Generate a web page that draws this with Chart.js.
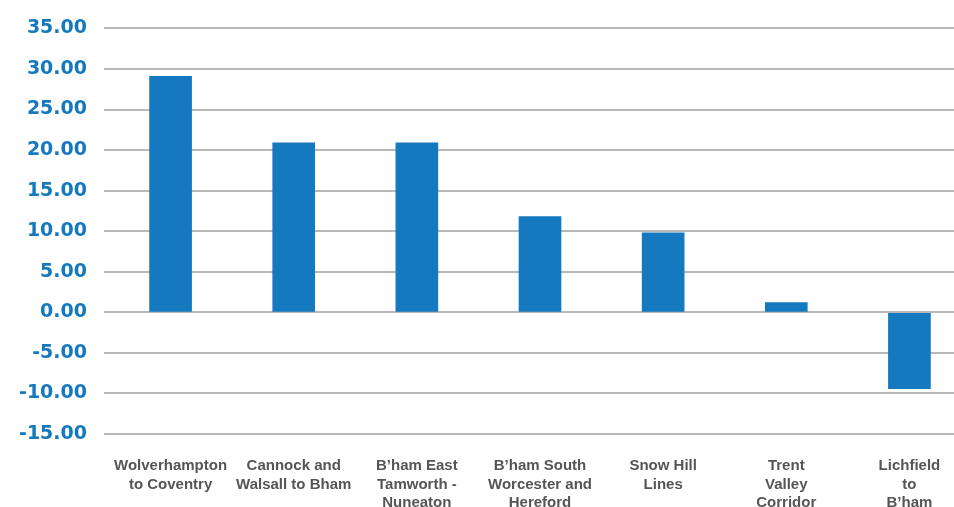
<!DOCTYPE html>
<html>
<head>
<meta charset="utf-8">
<script src="https://cdn.jsdelivr.net/npm/chart.js@4/dist/chart.umd.min.js"></script>
<style>
html,body{margin:0;padding:0;background:#fff;overflow:hidden;}
#wrap{position:relative;width:971px;height:507px;}
</style>
</head>
<body>
<div id="wrap"><canvas id="c"></canvas></div>
<script>
const categories = [
  ["Wolverhampton", "to Coventry"],
  ["Cannock and", "Walsall to Bham"],
  ["B’ham East", "Tamworth -", "Nuneaton"],
  ["B’ham South", "Worcester and", "Hereford"],
  ["Snow Hill", "Lines"],
  ["Trent", "Valley", "Corridor"],
  ["Lichfield", "to", "B’ham"]
];
const values = [29.1, 20.9, 20.9, 11.8, 9.8, 1.2, -9.4];
const yMin = -15, yMax = 35, yStep = 5;

const blue = '#1479be';
new Chart(document.getElementById('c'), {
  type: 'bar',
  data: {
    labels: categories,
    datasets: [{
      data: values,
      backgroundColor: blue,
      borderWidth: 0,
      barThickness: 42
    }]
  },
  options: {
    responsive: true,
    maintainAspectRatio: false,
    animation: false,
    layout: { padding: { top: 24, right: 0, bottom: 0, left: 0 } },
    plugins: { legend: { display: false }, tooltip: { enabled: false } },
    scales: {
      x: {
        grid: { display: false },
        border: { display: false },
        ticks: {
          color: '#555555',
          font: { family: 'Liberation Sans', size: 15, weight: 'bold', lineHeight: 1.22 },
          padding: 15,
          maxRotation: 0,
          autoSkip: false
        },
        afterFit: s => { s.height = 73; }
      },
      y: {
        min: yMin,
        max: yMax,
        border: { display: false },
        grid: { color: '#b8b8b8', lineWidth: 2, tickLength: 5 },
        ticks: {
          stepSize: yStep,
          color: blue,
          padding: 17,
          font: { family: 'DejaVu Sans', size: 19, weight: 'bold' },
          callback: v => v.toFixed(2)
        },
        afterFit: s => { s.width = 109; }
      }
    }
  }
});
</script>
</body>
</html>
